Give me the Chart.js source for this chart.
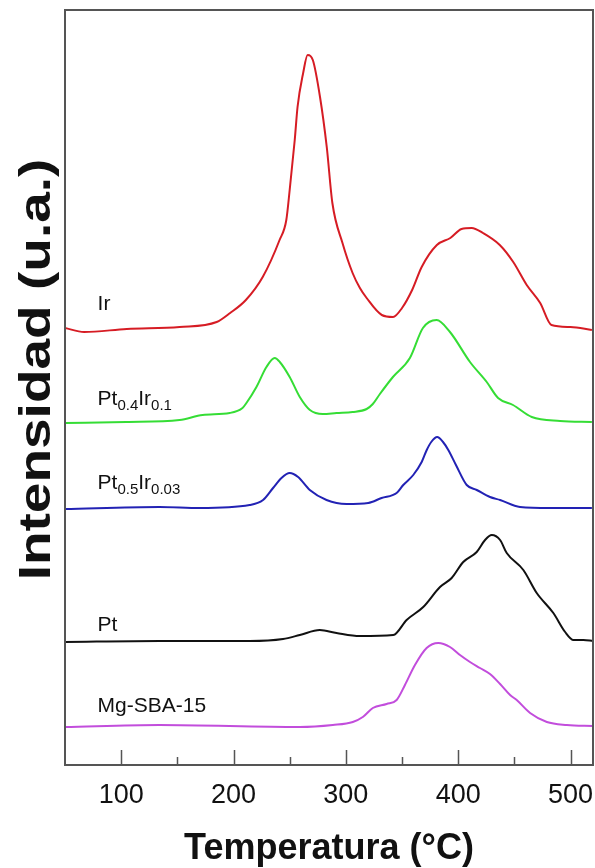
<!DOCTYPE html>
<html lang="es">
<head>
<meta charset="utf-8">
<title>TPR - Intensidad vs Temperatura</title>
<script src="https://cdn.jsdelivr.net/npm/chart.js"></script>
<style>
  html, body { margin: 0; padding: 0; background: #fff; }
  canvas { display: block; }
</style>
</head>
<body>
<canvas id="tpr" width="595" height="868"></canvas>
<script>
// temperatures (°C) and intensities (a.u., curves already offset)
const irT = [50, 67, 105, 152, 185, 197, 211, 226, 241, 247, 250, 254.5, 257, 262, 266, 270.6, 277, 283, 288, 297, 306, 312.5, 318.5, 332, 342, 350, 359, 367.5, 381, 393, 403, 412, 422, 437, 449, 461, 473, 483, 500, 519];
const irI = [437, 433, 436, 438, 443, 452, 465, 488, 525, 545, 575, 625, 658, 692, 710, 705, 668, 618, 562, 522, 492, 477, 467, 450, 448, 457, 475, 498, 520, 527, 536, 537, 532, 520, 503, 480, 462, 440, 438, 435];

const pt04T = [50, 104.5, 152, 172.5, 196.6, 208, 211.5, 220.4, 229.3, 236.7, 241.2, 250, 259, 268, 279.5, 291.7, 306, 318.5, 324, 330.3, 341.9, 357, 368.6, 380.8, 392.7, 410.5, 425.4, 435.5, 448.8, 465.5, 490.7, 519];
const pt04I = [342, 343, 345, 350, 352, 357, 362, 378, 398, 407, 403, 388, 368, 355, 351, 352, 353, 356, 361, 371, 388, 407, 437, 445, 433, 403, 383, 367, 360, 348, 344, 343];

const pt05T = [50, 134, 170, 214.4, 226.3, 235.2, 242.7, 250, 257.5, 267.9, 282.8, 300.6, 319.9, 331.8, 345.2, 351.1, 360, 367.5, 372, 376, 381.3, 386.5, 391.2, 398, 407.6, 416.5, 428.3, 437.3, 455, 481.8, 519];
const pt05I = [256, 258, 257, 260, 265, 277, 287, 292, 288, 275, 265, 261, 262, 267, 272, 280, 290, 303, 315, 323, 328, 323, 315, 300, 280, 275, 268, 265, 258, 257, 257];

const ptT = [50, 134, 214.4, 244.1, 259, 276.8, 291.7, 312.5, 342.2, 354.1, 368.9, 383.8, 394.2, 404.5, 416.5, 423.9, 429.9, 437.3, 443.2, 458, 469.9, 484.7, 495.2, 502.6, 511.5, 520];
const ptI = [123, 124, 124, 126, 130, 135, 132, 129, 130, 145, 158, 178, 187, 203, 213, 225, 230, 225, 212, 195, 172, 152, 133, 125, 125, 124];

const sbaT = [50, 134, 259, 288.4, 306.2, 315.1, 324, 336.3, 345.2, 352.6, 361.5, 371.9, 382.3, 392.7, 401.6, 410.5, 419.4, 428.3, 437.3, 446.2, 452.1, 464, 478.9, 496.7, 520];
const sbaI = [38, 40, 38, 40, 43, 48, 57, 61, 65, 80, 100, 117, 122, 118, 110, 103, 97, 91, 81, 70, 65, 52, 43, 40, 39];

const majorTicks = [100, 200, 300, 400, 500];
const minorTicks = [150, 250, 350, 450];

const fontFamily = "'Liberation Sans', Arial, sans-serif";

function pts(t, v) {
  return t.map((x, i) => ({ x: x, y: v[i] }));
}

const series = [
  { name: 'Ir', t: irT, v: irI, color: '#d61c24', label: [['Ir', 0]], at: [79, 455] },
  { name: 'Pt0.4Ir0.1', t: pt04T, v: pt04I, color: '#35dd35', label: [['Pt', 0], ['0.4', 1], ['Ir', 0], ['0.1', 1]], at: [79, 360] },
  { name: 'Pt0.5Ir0.03', t: pt05T, v: pt05I, color: '#2222b4', label: [['Pt', 0], ['0.5', 1], ['Ir', 0], ['0.03', 1]], at: [79, 276] },
  { name: 'Pt', t: ptT, v: ptI, color: '#111111', label: [['Pt', 0]], at: [79, 134] },
  { name: 'Mg-SBA-15', t: sbaT, v: sbaI, color: '#c24ddc', label: [['Mg-SBA-15', 0]], at: [79, 53] }
];

// inward ticks, frame, curve names and the stretched y title
const decorations = {
  id: 'decorations',
  afterDraw(chart) {
    const { ctx, chartArea: a, scales: { x, y } } = chart;
    ctx.save();
    ctx.strokeStyle = '#555';
    ctx.lineWidth = 1.5;
    ctx.beginPath();
    majorTicks.forEach(v => {
      const px = Math.round(x.getPixelForValue(v)) + 0.5;
      ctx.moveTo(px, a.bottom); ctx.lineTo(px, a.bottom - 15);
    });
    minorTicks.forEach(v => {
      const px = Math.round(x.getPixelForValue(v)) + 0.5;
      ctx.moveTo(px, a.bottom); ctx.lineTo(px, a.bottom - 8);
    });
    ctx.stroke();
    ctx.lineWidth = 2;
    ctx.strokeRect(a.left, a.top, a.right - a.left, a.bottom - a.top);

    ctx.fillStyle = '#111';
    ctx.textBaseline = 'alphabetic';
    series.forEach(s => {
      let px = x.getPixelForValue(s.at[0]);
      const py = y.getPixelForValue(s.at[1]);
      s.label.forEach(([txt, sub]) => {
        ctx.font = (sub ? '15px ' : '21px ') + fontFamily;
        ctx.fillText(txt, px, py + (sub ? 5 : 0));
        px += ctx.measureText(txt).width;
      });
    });

    ctx.translate(y.left + 50, (a.top + a.bottom) / 2 - 18);
    ctx.rotate(-Math.PI / 2);
    ctx.scale(1.25, 1);
    ctx.textAlign = 'center';
    ctx.font = 'bold 44px ' + fontFamily;
    ctx.fillText('Intensidad (u.a.)', 0, 0);
    ctx.restore();
  }
};

new Chart(document.getElementById('tpr'), {
  type: 'line',
  data: {
    datasets: series.map(s => ({
      label: s.name,
      data: pts(s.t, s.v),
      borderColor: s.color,
      borderWidth: 2,
      pointRadius: 0,
      cubicInterpolationMode: 'monotone',
      fill: false
    }))
  },
  options: {
    responsive: false,
    animation: false,
    layout: { padding: { top: 10, right: 2, left: 0, bottom: 0 } },
    plugins: {
      legend: { display: false },
      tooltip: { enabled: false }
    },
    scales: {
      x: {
        type: 'linear',
        min: 50,
        max: 520,
        afterBuildTicks: s => { s.ticks = majorTicks.map(v => ({ value: v })); },
        afterFit: s => { s.height = 103; s.paddingLeft = 0; s.paddingRight = 0; },
        grid: { display: false, drawTicks: false },
        border: { display: false },
        ticks: { color: '#111', padding: 14, font: { family: fontFamily, size: 27 } },
        title: {
          display: true,
          text: 'Temperatura (°C)',
          color: '#111',
          padding: { top: 0, bottom: -3 },
          font: { family: fontFamily, size: 36, weight: 'bold' }
        }
      },
      y: {
        min: 0,
        max: 755,
        afterFit: s => { s.width = 65; },
        grid: { display: false, drawTicks: false },
        border: { display: false },
        ticks: { display: false },
        title: { display: false }
      }
    }
  },
  plugins: [decorations]
});
</script>
</body>
</html>
